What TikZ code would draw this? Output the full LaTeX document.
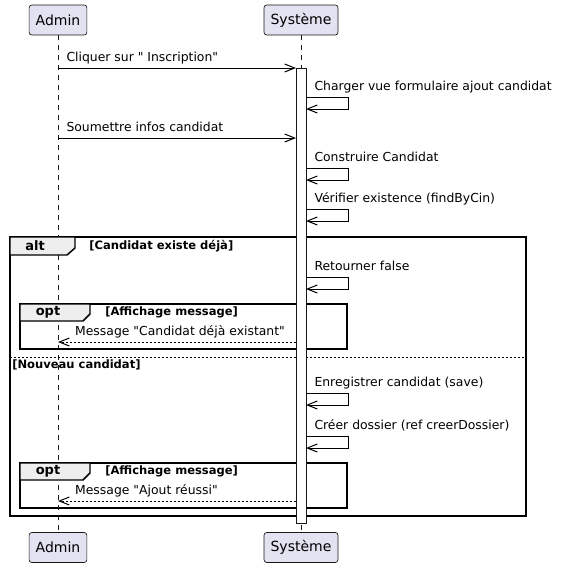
\documentclass[tikz,border=0pt]{standalone}
\usepackage{fontspec}
\setmainfont{DejaVu Sans}[Ligatures=TeXOff]
\usetikzlibrary{arrows.meta}
\definecolor{partfill}{HTML}{E2E2F0}
\definecolor{partline}{HTML}{181818}
\definecolor{tabfill}{HTML}{EEEEEE}

\begin{document}
\begin{tikzpicture}[x=0.75pt, y=-0.75pt,
  actor/.style={draw=partline, fill=partfill, line width=0.5pt, rounded corners=2pt,
    inner xsep=4.9pt, inner ysep=0pt, minimum height=22.5pt, font=\fontsize{10.5}{12}\selectfont},
  lifeline/.style={draw=partline, line width=0.5pt, dash pattern=on 3.75pt off 3.75pt},
  actbar/.style={draw=partline, fill=white, line width=0.75pt, minimum width=7.5pt, inner sep=0pt, outer sep=0pt},
  msg/.style={line width=0.75pt, -{Straight Barb[length=7.5pt, width=6pt]}},
  ret/.style={msg, dash pattern=on 1.5pt off 1.5pt},
  lbl/.style={pos=0, anchor=base west, xshift=6pt, yshift=4.9pt, inner sep=0pt, font=\fontsize{9.3}{12}\selectfont},
  rlbl/.style={lbl, pos=1, xshift=6.5pt},
  frame/.style={line width=1.1pt},
  tabtext/.style={font=\fontsize{9.75}{12}\selectfont\bfseries, inner sep=0pt},
  cond/.style={font=\fontsize{8.65}{10}\selectfont\bfseries, inner sep=0pt, anchor=west},
  divider/.style={line width=0.6pt, dash pattern=on 1.5pt off 1.5pt}]
  \useasboundingbox (0,0) rectangle (561,568);

  % participants
  \node[actor] (admin top) at (58,20) {Admin};
  \node[actor] (sys top) at (301,20) {Système};
  \node[actor] (admin bot) at (58,547.5) {Admin};
  \node[actor] (sys bot) at (301,547.5) {Système};
  \draw[lifeline] (admin top.south) -- (admin bot.north);
  \draw[lifeline] (sys top.south) -- (sys bot.north);

  % alt
  \draw[frame] (10,237) rectangle (526,516);
  \draw[frame, fill=tabfill] (10,237) -- (75,237) -- (75,248) -- (67,255) -- (10,255) -- cycle;
  \node[tabtext] (alt) at (35,246) {alt};
  \node[cond] (if) at (89,246) {[Candidat existe déjà]};
  \draw[divider] (10,357) -- (526,357);
  \node[cond] (else) at (12,365) {[Nouveau candidat]};

  % opt
  \foreach \t in {304,463} {
    \draw[frame] (20,\t) rectangle (347,\t+45);
    \draw[frame, fill=tabfill] (20,\t) -- (90,\t) -- (90,\t+10) -- (83,\t+17) -- (20,\t+17) -- cycle;
    \node[tabtext] (opt\t) at (48,\t+8.5) {opt};
    \node[cond] (optif\t) at (105,\t+8) {[Affichage message]};
  }

  \node[actbar, minimum height=341.25pt, anchor=north] (bar) at (301,68) {};

  % messages
  \draw[msg] (admin top |- 0,68) -- (bar.west |- 0,68) node[lbl] (m1) {Cliquer sur " Inscription"};
  \draw[msg] (admin top |- 0,138) -- (bar.west |- 0,138) node[lbl] (m2) {Soumettre infos candidat};
  \foreach \y/\txt [count=\i] in {97/Charger vue formulaire ajout candidat,
      168/Construire Candidat, 209/Vérifier existence (findByCin), 277/Retourner false,
      393/Enregistrer candidat (save), 436/Créer dossier (ref creerDossier)}
    \draw[msg] (bar.east |- 0,\y) -- ++(42,0) node[lbl] (self\i) {\txt} -- ++(0,12) -- ++(-42,0);
  \draw[ret] (bar.west |- 0,342) -- (admin top |- 0,342) node[rlbl] (r1) {Message "Candidat déjà existant"};
  \draw[ret] (bar.west |- 0,501) -- (admin top |- 0,501) node[rlbl] (r2) {Message "Ajout réussi"};
\end{tikzpicture}
\end{document}
